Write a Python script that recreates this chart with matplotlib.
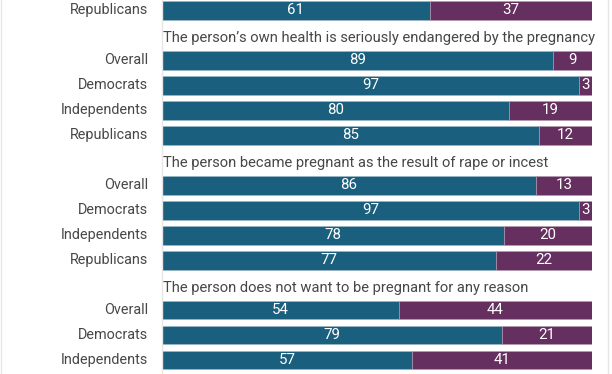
import numpy as np
import matplotlib
matplotlib.use("Agg")
import matplotlib.pyplot as plt
from matplotlib.lines import Line2D

plt.rcParams['font.family'] = ['Roboto', 'DejaVu Sans']

# groups (the first one is cut off at the top of the picture)
titles = [
    None,
    "The person\u2019s own health is seriously endangered by the pregnancy",
    "The person became pregnant as the result of rape or incest",
    "The person does not want to be pregnant for any reason",
]
group_rows = [
    ["Republicans"],
    ["Overall", "Democrats", "Independents", "Republicans"],
    ["Overall", "Democrats", "Independents", "Republicans"],
    ["Overall", "Democrats", "Independents"],
]
legal = [
    [61],
    [89, 97, 80, 85],
    [86, 97, 78, 77],
    [54, 79, 57],
]
illegal = [
    [37],
    [9, 3, 19, 12],
    [13, 3, 20, 22],
    [44, 21, 41],
]

blue = "#1b5f7e"
purple = "#65305f"
label_color = "#474747"

fig = plt.figure(figsize=(6.12, 3.74), dpi=100)
ax = fig.add_axes([162 / 612, 0, 430 / 612, 1])

pos = 0
for g in range(len(group_rows)):
    if titles[g] is not None:
        ax.text(0.3, pos + 0.1, titles[g], ha='left', va='center',
                fontsize=10.6, color=label_color)
        pos += 1
    for i, name in enumerate(group_rows[g]):
        a = legal[g][i]
        b = illegal[g][i]
        total = a + b
        wa = a / total * 100
        wb = b / total * 100
        ax.barh(pos, wa, left=0, height=0.75, color=blue,
                edgecolor="#9fb9c6", linewidth=0.4)
        ax.barh(pos, wb, left=wa, height=0.75, color=purple,
                edgecolor="#b69bb3", linewidth=0.4)
        ax.text(wa / 2, pos, str(a), ha='center', va='center',
                color='white', fontsize=10.8)
        ax.text(wa + wb / 2, pos, str(b), ha='center', va='center',
                color='white', fontsize=10.8)
        ax.text(-3.2, pos, name, ha='right', va='center',
                color=label_color, fontsize=10.4)
        pos += 1

ax.set_xlim(0, 100)
ax.set_ylim(14.56, -0.42)
ax.set_xticks([])
ax.set_yticks([])
for side in ['top', 'right', 'bottom']:
    ax.spines[side].set_visible(False)
ax.spines['left'].set_color("#e6e6e6")
ax.spines['left'].set_linewidth(1)

# light frame lines of the card
fig.add_artist(Line2D([0.5 / 612, 0.5 / 612], [0, 1], color="#e6e6e6", lw=1))
fig.add_artist(Line2D([608 / 612, 608 / 612], [0, 1], color="#e6e6e6", lw=1))

fig.savefig("out.png", dpi=100)
